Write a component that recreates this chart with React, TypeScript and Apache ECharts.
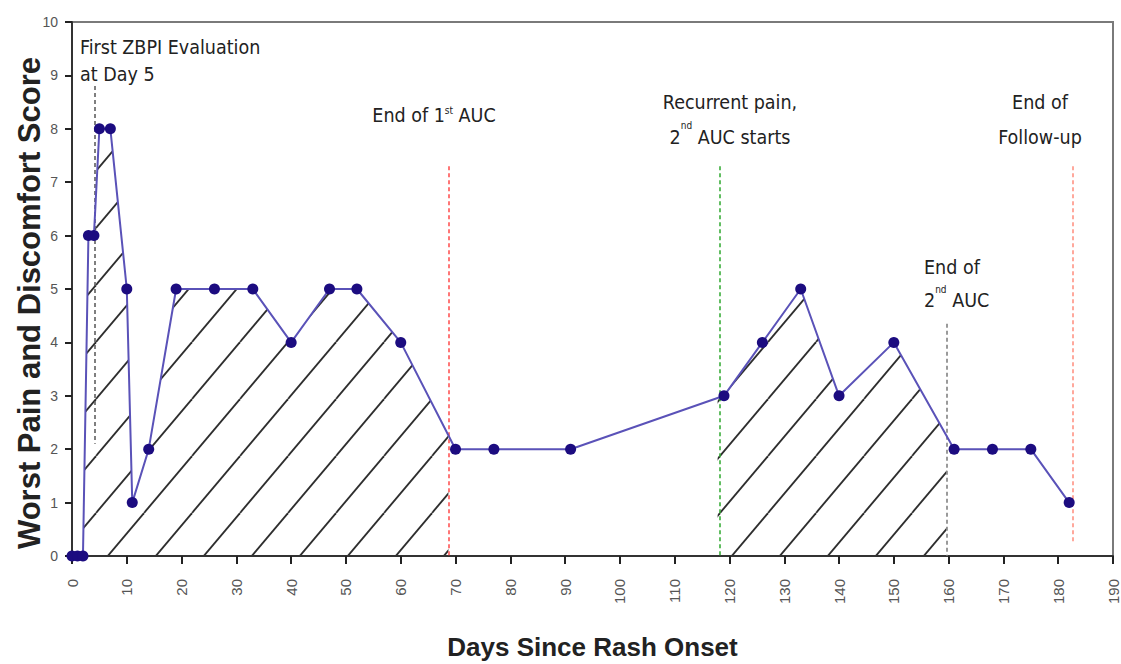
import React, { useEffect, useRef } from "react";
import * as echarts from "echarts";

// ---- data ----
const days = [0, 1, 2, 3, 4, 5, 7, 10, 11, 14, 19, 26, 33, 40, 47, 52, 60, 70, 77, 91, 119, 126, 133, 140, 150, 161, 168, 175, 182];
const scores = [0, 0, 0, 6, 6, 8, 8, 5, 1, 2, 5, 5, 5, 4, 5, 5, 4, 2, 2, 2, 3, 4, 5, 3, 4, 2, 2, 2, 1];

const xMin = 0;
const xMax = 190;
const xStep = 10;
const yMin = 0;
const yMax = 10;
const yStep = 1;

// vertical event markers (day, top score, bottom score)
const eventDays = [4.2, 68.7, 118.2, 159.6, 182.7];
const eventTops = [8.8, 7.3, 7.3, 4.35, 7.3];
const eventBottoms = [2.1, 0, 0, 0, 0.27];
const eventColors = ["#555555", "#ff4a4a", "#2ea82e", "#7a7a7a", "#ff8c7c"];

// hatched AUC windows
const auc1 = [0, 68.7];
const auc2 = [118.2, 159.6];

const annFont = "'Liberation Sans Narrow', 'Arial Narrow', 'DejaVu Sans Condensed', 'Liberation Sans', sans-serif";
const axisFont = "'Liberation Sans', Arial, sans-serif";

function makeHatch(w: number, h: number): string {
  const c = document.createElement("canvas");
  c.width = w;
  c.height = h;
  const g = c.getContext("2d")!;
  g.strokeStyle = "#2e2e2e";
  g.lineWidth = 1.8;
  for (const dx of [-w, 0, w]) {
    g.beginPath();
    g.moveTo(dx, h);
    g.lineTo(dx + w, 0);
    g.stroke();
  }
  return c.toDataURL();
}

export default function App() {
  const ref = useRef<HTMLDivElement>(null);

  useEffect(() => {
    document.body.style.margin = "0";
    if (!ref.current) return;
    const chart = echarts.init(ref.current, undefined, { renderer: "svg" });

    const hatchW = 48;
    const hatchH = 57;
    const hatch = makeHatch(hatchW, hatchH);

    const pts = days.map((d, i) => [d, scores[i]]);
    const gaps = [
      [auc1[1], auc2[0]],
      [auc2[1], xMax],
    ];

    const markLines = eventDays.map((d, i) => [
      { coord: [d, eventTops[i]], lineStyle: { color: eventColors[i] } },
      { coord: [d, eventBottoms[i]] },
    ]);

    const supStyle = { fontSize: 10, verticalAlign: "top", fontFamily: annFont, fill: "#222" };
    const annStyle = { fontSize: 19.5, fontFamily: annFont, fill: "#222" };

    const option: any = {
      animation: false,
      backgroundColor: "#ffffff",
      grid: {
        left: 72,
        right: 8,
        top: 22,
        bottom: 108,
        show: true,
        borderColor: "#7a7a7a",
        borderWidth: 2,
        backgroundColor: "transparent",
        containLabel: false,
        outerBoundsMode: "none",
      },
      xAxis: {
        type: "value",
        min: xMin,
        max: xMax,
        interval: xStep,
        z: 4,
        name: "Days Since Rash Onset",
        nameLocation: "middle",
        nameGap: 78,
        nameMoveOverlap: false,
        nameTextStyle: { fontSize: 26, color: "#222", fontFamily: axisFont, fontWeight: "bold" },
        axisLine: { show: true, onZero: false, lineStyle: { color: "#333333", width: 2 } },
        axisTick: { show: true, length: 8, lineStyle: { color: "#222222", width: 2 } },
        axisLabel: { show: true, rotate: 90, fontSize: 15, color: "#555", fontFamily: axisFont, margin: 23 },
        splitLine: { show: false },
      },
      yAxis: {
        type: "value",
        min: yMin,
        max: yMax,
        interval: yStep,
        z: 4,
        name: "Worst Pain and Discomfort Score",
        nameLocation: "middle",
        nameGap: 27,
        nameMoveOverlap: false,
        nameTextStyle: {
          fontSize: 31,
          color: "#222",
          fontFamily: axisFont,
          fontWeight: "bold",
          padding: [0, 28, 0, 0],
        },
        axisLine: { show: true, onZero: false, lineStyle: { color: "#333333", width: 2 } },
        axisTick: { show: true, length: 7, lineStyle: { color: "#222222", width: 2 } },
        axisLabel: { show: true, fontSize: 14, color: "#555", fontFamily: axisFont, margin: 14 },
        splitLine: { show: false },
      },
      series: [
        {
          name: "hatch",
          type: "line",
          data: pts,
          z: 1,
          silent: true,
          symbol: "none",
          lineStyle: { width: 0, opacity: 0 },
          areaStyle: {
            opacity: 1,
            color: { image: hatch, repeat: "repeat", imageWidth: hatchW, imageHeight: hatchH },
          },
        },
        {
          name: "mask",
          type: "custom",
          z: 2,
          silent: true,
          data: gaps,
          encode: { x: [0, 1] },
          renderItem: (_p: any, api: any) => {
            const a = api.coord([api.value(0), 0]);
            const b = api.coord([api.value(1), 6]);
            return {
              type: "rect",
              shape: { x: a[0], y: b[1], width: b[0] - a[0] - 2, height: a[1] - b[1] + 1 },
              style: { fill: "#ffffff" },
            };
          },
        },
        {
          name: "score",
          type: "line",
          data: pts,
          z: 5,
          symbol: "circle",
          symbolSize: 11,
          lineStyle: { color: "#5a52b8", width: 2 },
          itemStyle: { color: "#1c0c80" },
          markLine: {
            silent: true,
            symbol: ["none", "none"],
            label: { show: false },
            lineStyle: { type: [4, 3], width: 1.5 },
            data: markLines,
          },
        },
      ],
      graphic: [
        {
          type: "text",
          z: 100,
          x: 80,
          y: 34,
          style: { ...annStyle, text: "First ZBPI Evaluation\nat Day 5", lineHeight: 27 },
        },
        {
          type: "text",
          z: 100,
          x: 434,
          y: 115,
          style: {
            ...annStyle,
            text: "End of 1{sup|st} AUC",
            textAlign: "center",
            textVerticalAlign: "middle",
            rich: { sup: supStyle },
          },
        },
        {
          type: "text",
          z: 100,
          x: 730,
          y: 120,
          style: {
            ...annStyle,
            text: "Recurrent pain,\n2{sup|nd} AUC starts",
            lineHeight: 35,
            textAlign: "center",
            textVerticalAlign: "middle",
            rich: { sup: supStyle },
          },
        },
        {
          type: "text",
          z: 100,
          x: 1040,
          y: 120,
          style: {
            ...annStyle,
            text: "End of\nFollow-up",
            lineHeight: 35,
            textAlign: "center",
            textVerticalAlign: "middle",
          },
        },
        {
          type: "text",
          z: 100,
          x: 924,
          y: 284,
          style: {
            ...annStyle,
            text: "End of\n2{sup|nd} AUC",
            lineHeight: 33,
            textAlign: "left",
            textVerticalAlign: "middle",
            rich: { sup: supStyle },
          },
        },
      ],
    };

    chart.setOption(option);
    return () => chart.dispose();
  }, []);

  return <div ref={ref} style={{ width: 1121, height: 664 }} />;
}
